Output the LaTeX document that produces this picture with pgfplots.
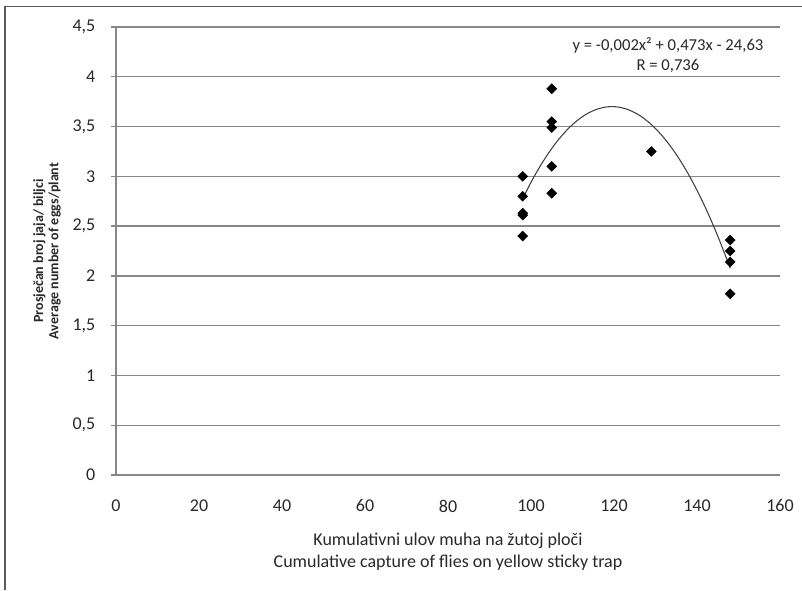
\documentclass[border=0pt]{standalone}
\usepackage{pgfplots}
\pgfplotsset{compat=1.18}
\usepackage{fontspec}
\setmainfont{Carlito}
\definecolor{gridc}{RGB}{135,135,135}
\definecolor{framec}{RGB}{90,90,90}
\definecolor{txtc}{RGB}{40,40,40}
\begin{document}
\begin{tikzpicture}[x=1pt,y=1pt]
\path[use as bounding box] (0,0) rectangle (601.5,442.5);
\draw[framec, line width=1.1pt] (3.9,0) -- (3.9,437.6) -- (601.5,437.6);
\begin{axis}[
  at={(87pt,86.25pt)}, anchor=south west,
  scale only axis, width=498pt, height=336pt,
  xmin=0, xmax=160, ymin=0, ymax=4.5,
  xtick={0,20,...,160}, ytick={0,0.5,...,4.5},
  axis x line*=bottom, axis y line*=left,
  axis line style={gridc, line width=1pt},
  ymajorgrids, grid style={gridc, line width=1pt},
  major tick length=4pt,
  xtick style={draw=none},
  ytick style={gridc, line width=1pt},
  tick align=outside,
  /pgf/number format/assume math mode=true,
  /pgf/number format/use comma,
  /pgf/number format/fixed,
  tick label style={font=\fontsize{13.5}{15}\selectfont, text=txtc},
  yticklabel style={xshift=-8pt},
  xticklabel style={yshift=-11pt},
  xlabel={Kumulativni ulov muha na žutoj ploči\\Cumulative capture of flies on yellow sticky trap},
  xlabel style={align=center, font=\fontsize{13.5}{16}\selectfont, text=txtc, yshift=-9pt},
  ylabel={\textbf{Prosječan broj jaja/ biljci}\\\textbf{Average number of eggs/plant}},
  ylabel style={align=center, font=\fontsize{10.5}{11.5}\selectfont, text=txtc, yshift=2pt},
  clip=false,
]
\addplot[only marks, mark=square*, mark size=2.6pt, mark options={rotate=45, fill=black, draw=black}] coordinates {
(98,3.00) (98,2.80) (98,2.63) (98,2.61) (98,2.40)
(105,3.88) (105,3.55) (105,3.49) (105,3.10) (105,2.83)
(129,3.25)
(148,2.36) (148,2.25) (148,2.14) (148,1.82)
};
\addplot[color=black!75, line width=0.8pt, smooth, tension=0.5] coordinates {
(98,2.776) (100,2.940) (102,3.088) (104,3.220) (106,3.336) (108,3.436)
(110,3.520) (112,3.588) (114,3.640) (116,3.676) (118,3.696) (119.5,3.700)
(121,3.696) (123,3.676) (125,3.640) (127,3.588) (129,3.520) (131,3.436)
(133,3.336) (135,3.220) (137,3.088) (139,2.940) (141,2.776) (143,2.596)
(145,2.400) (147,2.188) (148,2.076)
};
\node[align=center, font=\fontsize{12.5}{15}\selectfont, text=txtc] at (axis cs:133,4.22) {y = -0,002x² + 0,473x - 24,63\\R = 0,736};
\end{axis}
\end{tikzpicture}
\end{document}
